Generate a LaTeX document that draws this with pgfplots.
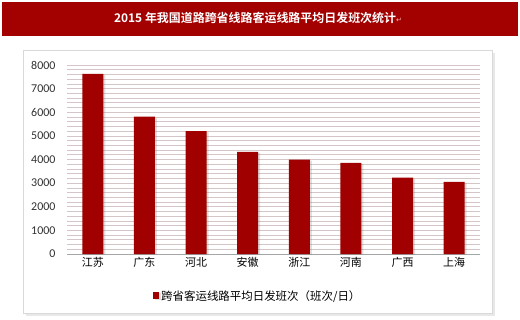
\documentclass[border=0pt]{standalone}
\usepackage{pgfplots}
\pgfplotsset{compat=1.18}
\usepackage{fontspec}
\setmainfont{Carlito}
\newfontfamily\cjk{Noto Sans CJK SC}
\newfontfamily\cjkb{Noto Sans CJK SC Bold}
\newfontfamily\sym{DejaVu Sans}
\usetikzlibrary{shadows}
\definecolor{barred}{RGB}{160,0,0}
\definecolor{titlered}{RGB}{163,0,0}
\definecolor{gridc}{RGB}{212,198,198}
\definecolor{ticktext}{RGB}{50,50,50}
\begin{document}
\begin{tikzpicture}[x=1bp,y=1bp]
\path[use as bounding box] (0,0) rectangle (520,319);
\fill[white] (0,0) rectangle (520,319);
\fill[titlered] (2,283) rectangle (518,317);
\node[text=white, font=\cjkb\fontsize{12}{14}\selectfont, inner sep=0pt] at (258,301) {2015 年我国道路跨省线路客运线路平均日发班次统计{\sym\color{red!30}\fontsize{7}{8}\selectfont ↵}};
\filldraw[fill=white, draw=black!15, drop shadow={opacity=0.18, shadow xshift=3bp, shadow yshift=-3bp}] (23,6) rectangle (492,269);
\begin{axis}[
  at={(67bp,65bp)}, anchor=south west,
  scale only axis, width=413bp, height=189bp,
  ybar, bar width=21bp,
  xmin=-0.5, xmax=7.5, ymin=0, ymax=8000,
  xtick=data,
  xticklabels={江苏,广东,河北,安徽,浙江,河南,广西,上海},
  x tick label style={font=\cjk\fontsize{11}{12}\selectfont, text=black},
  ytick={0,1000,...,8000},
  minor ytick={0,200,...,8000},
  y tick label style={font=\fontsize{12}{14}\selectfont, text=ticktext},
  /pgf/number format/assume math mode=true,
  /pgf/number format/1000 sep={},
  ymajorgrids, yminorgrids,
  major grid style={gridc, line width=0.7pt},
  minor grid style={gridc, line width=0.7pt},
  axis x line*=bottom, axis y line*=left,
  x axis line style={black!35, line width=0.6pt, -},
  y axis line style={draw=none},
  major tick length=0pt, minor tick length=0pt,
  xtick style={draw=none}, ytick style={draw=none},
  yticklabel style={xshift=-8bp},
  legend style={at={(0.462,-0.222)}, anchor=center, draw=none, fill=none,
    font=\cjk\fontsize{11.5}{13}\selectfont},
  legend image code/.code={\fill[barred] (0bp,-3.5bp) rectangle (6bp,3.5bp);},
]
\addplot[fill=barred, draw=none, drop shadow={opacity=0.25, shadow xshift=2bp, shadow yshift=-1bp}]
  coordinates {(0,7620) (1,5810) (2,5200) (3,4320) (4,3990) (5,3860) (6,3230) (7,3050)};
\addlegendentry{跨省客运线路平均日发班次（班次/日）}
\end{axis}
\end{tikzpicture}
\end{document}
